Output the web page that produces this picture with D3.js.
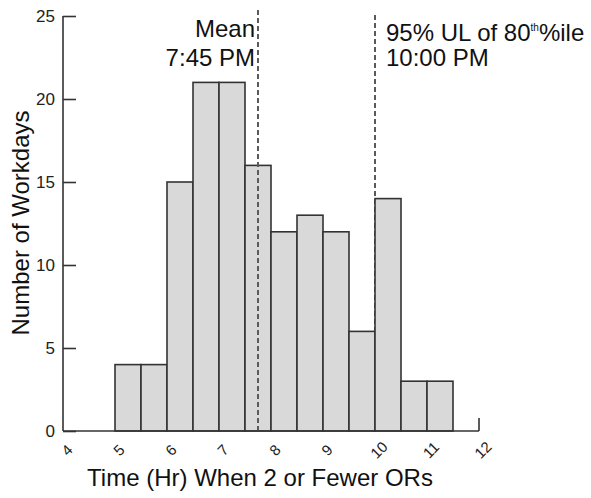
<!DOCTYPE html>
<meta charset="utf-8">
<style>
body { margin: 0; background: #fff; }
svg { display: block; font-family: "Liberation Sans", Arial, sans-serif; }
.bar { fill: #d9d9d9; stroke: #333; stroke-width: 1.6; }
.ref { stroke: #5a5a5a; stroke-width: 2; stroke-dasharray: 5,3; }
.axis-line { stroke: #333; stroke-width: 1.6; fill: none; }
</style>
<svg width="591" height="498"></svg>
<script src="https://d3js.org/d3.v7.min.js"></script>
<script>

// histogram bins (start hour of each half-hour bin) and day counts
var binStarts = [5, 5.5, 6, 6.5, 7, 7.5, 8, 8.5, 9, 9.5, 10, 10.5, 11];
var counts    = [4, 4, 15, 21, 21, 16, 12, 13, 12, 6, 14, 3, 3];
var binWidth = 0.5;

var xTicks = [4, 5, 6, 7, 8, 9, 10, 11, 12];
var yTicks = [0, 5, 10, 15, 20, 25];

var meanHr = 7.75, ulHr = 10;

var svg = d3.select("svg");

var x = d3.scaleLinear().domain([4, 12]).range([63, 479]);
var y = d3.scaleLinear().domain([0, 25]).range([431, 16]);

var data = binStarts.map(function(s, i) { return {x0: s, x1: s + binWidth, n: counts[i]}; });

// 10 PM line goes under the bars
svg.append("line")
    .attr("class", "ref")
    .attr("x1", x(ulHr)).attr("x2", x(ulHr))
    .attr("y1", y(25) - 1).attr("y2", y(0));

svg.selectAll(".bar")
  .data(data)
  .enter().append("rect")
    .attr("class", "bar")
    .attr("x", function(d) { return x(d.x0); })
    .attr("y", function(d) { return y(d.n); })
    .attr("width", function(d) { return x(d.x1) - x(d.x0); })
    .attr("height", function(d) { return y(0) - y(d.n); });

// mean line on top of the bars
svg.append("line")
    .attr("class", "ref")
    .attr("x1", x(meanHr)).attr("x2", x(meanHr))
    .attr("y1", y(25) - 6).attr("y2", y(0));

// y axis, ticks pointing inward
var yAxis = svg.append("g")
    .attr("transform", "translate(" + x(4) + ",0)")
    .call(d3.axisRight(y).tickValues(yTicks).tickSize(13).tickSizeOuter(0));
yAxis.select(".domain").remove();
yAxis.selectAll("line").attr("stroke", "#333").attr("stroke-width", 1.6);
yAxis.selectAll("text")
    .attr("x", -8)
    .attr("text-anchor", "end")
    .attr("font-size", 17)
    .attr("font-family", "Liberation Sans, Arial, sans-serif")
    .attr("fill", "#222");

svg.append("line").attr("class", "axis-line")
    .attr("x1", x(4)).attr("x2", x(4))
    .attr("y1", y(25)).attr("y2", y(0));

// x axis
svg.append("line").attr("class", "axis-line")
    .attr("x1", x(4)).attr("x2", x(12))
    .attr("y1", y(0)).attr("y2", y(0));
svg.append("line").attr("class", "axis-line")
    .attr("x1", x(12)).attr("x2", x(12))
    .attr("y1", y(0)).attr("y2", y(0) - 13);

svg.append("g").selectAll("text")
  .data(xTicks)
  .enter().append("text")
    .attr("transform", function(d) { return "translate(" + (x(d) + 4) + "," + (y(0) + 19) + ") rotate(-45)"; })
    .attr("text-anchor", "middle")
    .attr("dy", "0.35em")
    .attr("font-size", 15)
    .attr("fill", "#222")
    .text(function(d) { return d; });

// axis titles
svg.append("text")
    .attr("x", 260).attr("y", 486)
    .attr("text-anchor", "middle")
    .attr("font-size", 24)
    .attr("fill", "#111")
    .text("Time (Hr) When 2 or Fewer ORs");

svg.append("text")
    .attr("transform", "translate(29," + 223 + ") rotate(-90)")
    .attr("text-anchor", "middle")
    .attr("font-size", 24)
    .attr("fill", "#111")
    .text("Number of Workdays");

// annotations
var ann = svg.append("g").attr("font-size", 24).attr("fill", "#111");
ann.append("text").attr("x", x(meanHr) - 3).attr("y", 37)
    .attr("text-anchor", "end").text("Mean");
ann.append("text").attr("x", x(meanHr) - 3).attr("y", 66)
    .attr("text-anchor", "end").text("7:45 PM");

var ul = ann.append("text").attr("x", x(ulHr) + 11).attr("y", 41);
ul.append("tspan").text("95% UL of 80");
ul.append("tspan").attr("font-size", 10).attr("dy", -10).text("th");
ul.append("tspan").attr("dy", 10).text("%ile");
ann.append("text").attr("x", x(ulHr) + 11).attr("y", 66).text("10:00 PM");

</script>
